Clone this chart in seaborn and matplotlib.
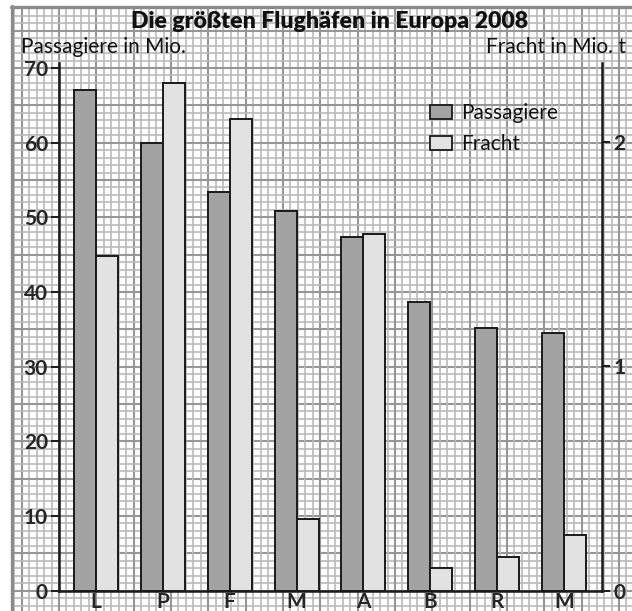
import numpy as np
import matplotlib.pyplot as plt
import seaborn as sns
from matplotlib.patches import Patch

# Daten
flughaefen = ['L', 'P', 'F', 'M', 'A', 'B', 'R', 'M']
passagiere = [67.0, 60.0, 53.4, 50.8, 47.4, 38.6, 35.2, 34.5]   # in Mio.
fracht = [1.49, 2.26, 2.10, 0.32, 1.59, 0.10, 0.15, 0.25]       # in Mio. t
ticks_links = [0, 10, 20, 30, 40, 50, 60, 70]
ticks_rechts = [0, 1, 2]

# Stil
sns.set_theme(style='white')
plt.rcParams['font.family'] = ['Lato', 'DejaVu Sans']
plt.rcParams['text.color'] = '#111111'

FARBE_PASS = '#a3a3a3'
FARBE_FRACHT = '#e2e2e2'
RAND = '#1a1a1a'
W, H = 632, 611

fig = plt.figure(figsize=(W / 100, H / 100), dpi=100)

# Karopapier im Hintergrund
bg = fig.add_axes([0, 0, 1, 1], zorder=0)
bg.set_xlim(0, W)
bg.set_ylim(H, 0)
bg.axis('off')
schritt = 7.467
y0, x0 = 590.7, 59.0
for k in range(-90, 90):
    y = y0 - k * schritt
    if 7 < y < H:
        major = k % 5 == 0
        bg.plot([12, W], [y, y], color='#969696' if major else '#bababa',
                lw=1.5 if major else 1.2, zorder=0)
    x = x0 + k * schritt
    if 12 < x < W:
        major = k % 5 == 0
        bg.plot([x, x], [7, H], color='#969696' if major else '#bababa',
                lw=1.5 if major else 1.2, zorder=0)
bg.plot([11.5, 11.5], [6, H], color='#8a8a8a', lw=2.4)
bg.plot([11, W], [6.5, 6.5], color='#8a8a8a', lw=2.4)

# Hauptdiagramm
ax = fig.add_axes([59 / W, (H - 590.7) / H, (602 - 59) / W, (590.7 - 62.8) / H], zorder=2)
ax.patch.set_alpha(0)
ax2 = ax.twinx()
ax2.patch.set_alpha(0)

pos = np.arange(len(flughaefen))
b = 0.33
sns.barplot(x=pos - b / 2, y=passagiere, native_scale=True, width=b, color=FARBE_PASS,
            saturation=1, edgecolor=RAND, linewidth=1.4, errorbar=None, ax=ax)
sns.barplot(x=pos + b / 2, y=fracht, native_scale=True, width=b, color=FARBE_FRACHT,
            saturation=1, edgecolor=RAND, linewidth=1.4, errorbar=None, ax=ax2)

ax.set_xlim(-0.553, 7.568)
ax.set_ylim(0, 70.7)
ax2.set_ylim(0, 527.9 / 224.5)

ax.set_xticks(pos)
ax.set_xticklabels(flughaefen)
ax.set_yticks(ticks_links)
ax2.set_yticks(ticks_rechts)
ax.set_xlabel('')
ax.set_ylabel('')
ax2.set_ylabel('')

ax.tick_params(axis='x', length=0, pad=1, labelsize=15)
ax.tick_params(axis='y', left=True, direction='out', length=6, width=1.4, pad=2,
               labelsize=15, color=RAND)
ax2.tick_params(axis='y', right=True, direction='out', length=6, width=1.4, pad=2,
                labelsize=15, color=RAND)
for lab in ax.get_xticklabels() + ax.get_yticklabels() + ax2.get_yticklabels():
    lab.set_fontweight('bold')

for s in ['top', 'right']:
    ax.spines[s].set_visible(False)
for s in ['top', 'left', 'bottom']:
    ax2.spines[s].set_visible(False)
for sp in [ax.spines['left'], ax.spines['bottom'], ax2.spines['right']]:
    sp.set_linewidth(1.8)
    sp.set_color(RAND)

# Beschriftungen
fig.text(330 / W, 1 - 22 / H, 'Die größten Flughäfen in Europa 2008', ha='center',
         va='center', fontsize=16.6, fontweight='heavy')
fig.text(21 / W, 1 - 47 / H, 'Passagiere in Mio.', ha='left', va='center', fontsize=15)
fig.text(626 / W, 1 - 47 / H, 'Fracht in Mio. t', ha='right', va='center', fontsize=15)

# Legende
handles = [Patch(facecolor=FARBE_PASS, edgecolor=RAND, linewidth=1.3, label='Passagiere'),
           Patch(facecolor=FARBE_FRACHT, edgecolor=RAND, linewidth=1.3, label='Fracht')]
ax2.legend(handles=handles, loc='upper left', bbox_to_anchor=(430 / W, 1 - 103 / H),
           bbox_transform=fig.transFigure, frameon=False, fontsize=15, borderpad=0,
           handlelength=1.06, handleheight=0.67, handletextpad=0.45, labelspacing=0.55,
           borderaxespad=0)

fig.savefig('out.png', dpi=100)
